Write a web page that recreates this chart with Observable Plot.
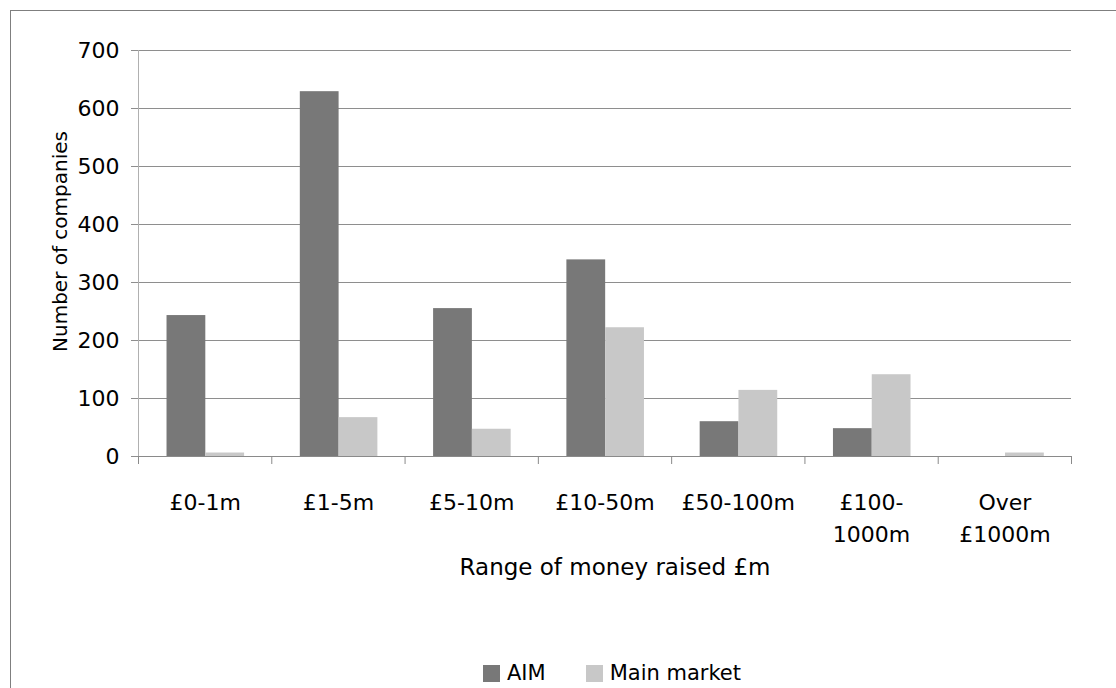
<!DOCTYPE html>
<html>
<head>
<meta charset="utf-8">
<script src="https://cdn.jsdelivr.net/npm/d3@7"></script>
<script src="https://cdn.jsdelivr.net/npm/@observablehq/plot@0.6"></script>
<style>
  html, body { margin: 0; padding: 0; background: #fff; overflow: hidden; }
  #frame { position: absolute; left: 10px; top: 10px; width: 1200px; height: 800px;
           border-left: 1px solid #7f7f7f; border-top: 1px solid #7f7f7f;
           font-family: "DejaVu Sans", sans-serif; background: #fff; }
  #legend { position: absolute; left: 472px; top: 650px; display: flex; align-items: center;
            font-size: 21px; color: #000; white-space: nowrap; }
  #legend .item { display: flex; align-items: center; }
  #legend .item + .item { margin-left: 40px; }
  #legend .sw { width: 17px; height: 17px; display: inline-block; margin-right: 7px; }
</style>
</head>
<body>
<div id="frame">
  <div id="chart"></div>
  <div id="legend"></div>
</div>
<script>
// ---- data ----
const categories = ["£0-1m", "£1-5m", "£5-10m", "£10-50m", "£50-100m", "£100-\n1000m", "Over\n£1000m"];
const series = ["AIM", "Main market"];
const aimValues = [243, 629, 255, 339, 60, 48, 0];
const mainValues = [6, 67, 47, 222, 114, 141, 6];
const yTicks = [0, 100, 200, 300, 400, 500, 600, 700];
const colors = ["#787878", "#c8c8c8"];
const yTitle = "Number of companies";
const xTitle = "Range of money raised £m";

// ---- layout (bar placement within each category band) ----
const barStart = {"AIM": 0.214, "Main market": 0.505};
const barWidth = 0.291;

const rows = categories.flatMap((c, i) => [
  {cat: i, series: "AIM", value: aimValues[i]},
  {cat: i, series: "Main market", value: mainValues[i]}
]);
const boundaries = d3.range(categories.length + 1);
const centers = categories.map((_, i) => i + 0.5);

const chart = Plot.plot({
  width: 1105,
  height: 590,
  marginLeft: 127,
  marginRight: 45,
  marginTop: 39,
  marginBottom: 145,
  style: {fontFamily: "DejaVu Sans", fontSize: "22px", color: "#000", background: "transparent"},
  x: {domain: [0, categories.length], axis: null, label: null},
  y: {domain: [yTicks[0], yTicks[yTicks.length - 1]], axis: null, label: null},
  color: {domain: series, range: colors},
  marks: [
    Plot.gridY({ticks: yTicks.filter(v => v > 0), stroke: "#8e8e8e", strokeOpacity: 1}),
    Plot.rectY(rows, {
      x1: d => d.cat + barStart[d.series],
      x2: d => d.cat + barStart[d.series] + barWidth,
      y1: 0,
      y2: "value",
      fill: "series"
    }),
    Plot.ruleY([0], {stroke: "#8a8a8a"}),
    Plot.ruleX([0], {y1: yTicks[0], y2: yTicks[yTicks.length - 1], stroke: "#b0b0b0"}),
    Plot.axisY({ticks: yTicks, tickSize: 7, tickPadding: 12, fontSize: 22, stroke: "#8e8e8e", label: null}),
    Plot.axisX({ticks: boundaries, tickSize: 8, tickFormat: () => "", stroke: "#8a8a8a", label: null}),
    Plot.axisX({ticks: centers, tickSize: 0, tickPadding: 31, fontSize: 22, lineHeight: 1.44,
                tickFormat: d => categories[Math.floor(d)], label: null}),
    Plot.text([yTitle], {frameAnchor: "left", rotate: -90, lineAnchor: "top", textAnchor: "middle",
                         dx: -86, dy: -12, fontSize: 20, fill: "#000"}),
    Plot.text([xTitle], {frameAnchor: "bottom", lineAnchor: "top", dy: 102, dx: 10, fontSize: 23, fill: "#000"})
  ]
});
document.getElementById("chart").appendChild(chart);

const legend = document.getElementById("legend");
series.forEach((s, i) => {
  const item = document.createElement("div");
  item.className = "item";
  const sw = document.createElement("span");
  sw.className = "sw";
  sw.style.background = colors[i];
  const label = document.createElement("span");
  label.textContent = s;
  item.appendChild(sw);
  item.appendChild(label);
  legend.appendChild(item);
});
</script>
</body>
</html>
